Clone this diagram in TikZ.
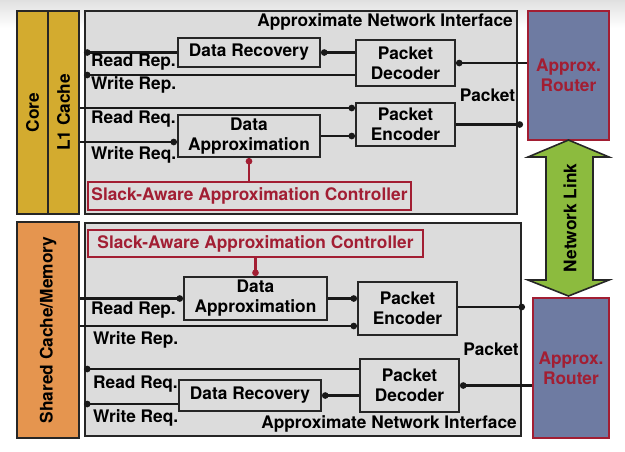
\documentclass[tikz,border=0pt]{standalone}
\usepackage{fontspec}
\setmainfont{TeX Gyre Heros}
\usetikzlibrary{arrows.meta,calc}
\definecolor{gold}{HTML}{D3AB2F}
\definecolor{orng}{HTML}{E5954F}
\definecolor{nigray}{HTML}{DCDCDC}
\definecolor{rtr}{HTML}{6E7BA2}
\definecolor{dred}{HTML}{A21E33}
\definecolor{lgreen}{HTML}{8CBB3E}
\newcommand\ff{\fontsize{17.3}{20}\selectfont\bfseries}
\begin{document}
\begin{tikzpicture}[x=1pt,y=-1pt,
  frame/.style={draw=black!85, line width=2pt, fill=nigray, inner sep=0pt},
  box/.style={draw=black!85, line width=2pt, fill=nigray, font=\ff, align=center, inner sep=0pt},
  side/.style={draw=black!85, line width=2pt, font=\ff, inner sep=0pt},
  ctrl/.style={draw=dred, line width=2pt, fill=nigray, text=dred, font=\ff, inner sep=0pt},
  router/.style={draw=dred, line width=2pt, fill=rtr, text=dred, font=\ff, align=center, inner sep=0pt},
  lbl/.style={font=\ff, anchor=west, inner sep=0pt},
  conn/.style={draw=black!90, line width=2.5pt, -{Circle[length=6.5pt]}},
  rconn/.style={draw=dred, line width=2.5pt, -{Circle[length=6.5pt]}}]
\useasboundingbox (0,0) rectangle (625,451);
\shade[top color=black!12, bottom color=white] (0,0) rectangle (625,28);

% ---------- top half ----------
\node[side, fill=gold, minimum width=31pt, minimum height=203pt] (core) at (32.5,112.5) {};
\node[rotate=90, font=\ff] (corel) at (core.center) {Core};
\node[side, fill=gold, minimum width=31pt, minimum height=203pt] (l1) at (63.5,112.5) {};
\node[rotate=90, font=\ff] (l1l) at (l1.center) {L1 Cache};
\node[frame, minimum width=432pt, minimum height=203pt] (ni1) at (301,112.5) {};
\node[font=\ff, anchor=east, inner sep=0pt] (t1) at (513,22) {Approximate Network Interface};

\node[box, minimum width=142pt, minimum height=29pt] (dr1) at (249,52.5) {Data Recovery};
\node[box, minimum width=99pt, minimum height=46pt] (pd1) at (405.5,63) {Packet\\Decoder};
\node[box, minimum width=99pt, minimum height=43pt] (pe1) at (405.5,124.5) {Packet\\Encoder};
\node[box, minimum width=142pt, minimum height=42pt] (da1) at (249,136) {Data\\Approximation};
\node[ctrl, minimum width=323pt, minimum height=28pt] (sc1) at (249.5,196) {Slack-Aware Approximation Controller};
\node[router, minimum width=81pt, minimum height=129pt] (r1) at (568.5,75.5) {Approx.\\Router};

\coordinate (wr1) at ([yshift=-12pt]pd1.west);
\coordinate (rq1) at ([yshift=16.5pt]pe1.west);
\coordinate (wq1) at ([yshift=-6pt]da1.west);
\coordinate (po1) at ([xshift=-4pt]r1.west);

\draw[conn] (dr1.west) -- (dr1.west -| ni1.west);
\draw[conn] (wr1) -- (wr1 -| ni1.west);
\draw[conn] (rq1 -| l1.east) -- (rq1);
\draw[conn] (wq1 -| l1.east) -- (wq1);
\draw[conn] (da1.east) -- (da1.east -| pe1.west);
\draw[conn] (pd1.west |- dr1.east) -- (dr1.east);
\draw[conn] (r1.west |- pd1.east) -- (pd1.east);
\draw[conn] (pe1.east) -- (pe1.east -| po1);
\draw[rconn] (sc1.north -| da1.south) -- (da1.south);

\node[lbl] (lrr1) at (91,62) {Read Rep.};
\node[lbl] (lwr1) at (91,85) {Write Rep.};
\node[lbl] (lrq1) at (91,119) {Read Req.};
\node[lbl] (lwq1) at (91,155) {Write Req.};
\node[font=\ff, inner sep=0pt] (pk1) at (487.5,95) {Packet};

% ---------- network link ----------
\filldraw[fill=lgreen, draw=black!85, line width=1.6pt]
  (568.5,140) -- (609,157) -- (593,157) -- (593,280) -- (609,280) -- (568.5,296)
  -- (528,280) -- (546,280) -- (546,157) -- (528,157) -- cycle;
\node[rotate=90, font=\ff] (nl) at (570,218) {Network Link};

% ---------- bottom half ----------
\node[side, fill=orng, minimum width=62pt, minimum height=216pt] (sh) at (48,330) {};
\node[rotate=90, font=\ff] (shl) at (sh.center) {Shared Cache/Memory};
\node[frame, minimum width=436pt, minimum height=213pt] (ni2) at (303,329.5) {};
\node[font=\ff, anchor=east, inner sep=0pt] (t2) at (517,424) {Approximate Network Interface};

\node[ctrl, minimum width=335pt, minimum height=27pt] (sc2) at (255.5,243.5) {Slack-Aware Approximation Controller};
\node[box, minimum width=143pt, minimum height=43pt] (da2) at (255.5,298.5) {Data\\Approximation};
\node[box, minimum width=99pt, minimum height=53pt] (pe2) at (407.5,308.5) {Packet\\Encoder};
\node[box, minimum width=99pt, minimum height=53pt] (pd2) at (409.5,385.5) {Packet\\Decoder};
\node[box, minimum width=142pt, minimum height=31pt] (dr2) at (250,395.5) {Data Recovery};
\node[router, minimum width=76pt, minimum height=140pt] (r2) at (571,368) {Approx.\\Router};

\coordinate (wr2) at ([yshift=-17.5pt]pe2.west);
\coordinate (rq2) at ([yshift=16.5pt]pd2.west);
\coordinate (wq2) at ([yshift=-8.5pt]dr2.west);
\coordinate (po2) at ([xshift=3pt]ni2.east);

\draw[conn] (da2.west -| sh.east) -- (da2.west);
\draw[conn] (wr2 -| sh.east) -- (wr2);
\draw[conn] (da2.east) -- (da2.east -| pe2.west);
\draw[conn] ([yshift=1.5pt]pe2.east) -- ([yshift=1.5pt]pe2.east -| po2);
\draw[conn] (r2.west |- pd2.east) -- (pd2.east);
\draw[conn] (pd2.west |- dr2.east) -- (dr2.east);
\draw[conn] (rq2) -- (rq2 -| ni2.west);
\draw[conn] (wq2) -- (wq2 -| ni2.west);
\draw[rconn] (sc2.south) -- (sc2.south |- da2.north);

\node[lbl] (lrr2) at (91,310) {Read Rep.};
\node[lbl] (lwr2) at (93,340) {Write Rep.};
\node[lbl] (lrq2) at (93,384) {Read Req.};
\node[lbl] (lwq2) at (93,418) {Write Req.};
\node[font=\ff, inner sep=0pt] (pk2) at (491,349) {Packet};
\end{tikzpicture}
\end{document}
